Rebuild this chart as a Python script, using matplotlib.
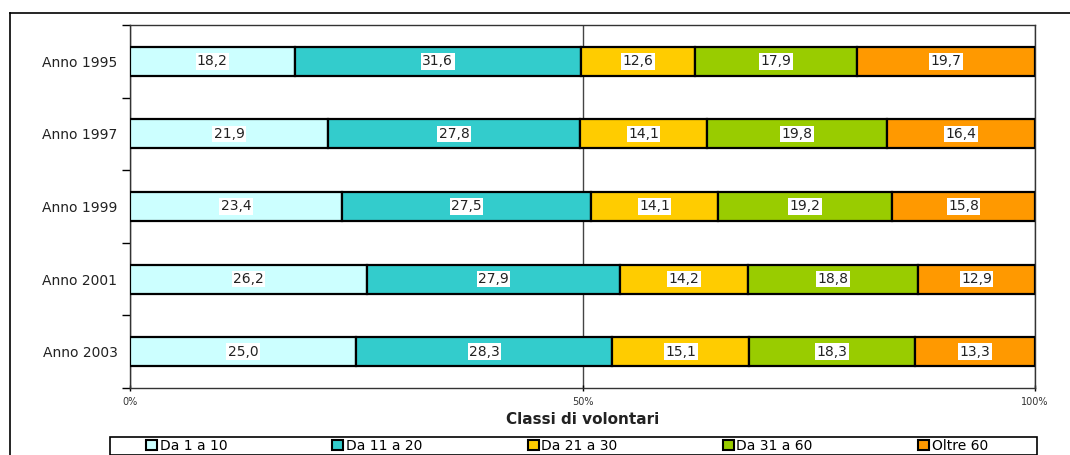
import matplotlib
matplotlib.use('Agg')
import matplotlib.pyplot as plt
from matplotlib.lines import Line2D
from matplotlib.patches import Rectangle, Patch
import numpy as np

plt.rcParams['font.family'] = ['DejaVu Sans']

anni = ['Anno 1995', 'Anno 1997', 'Anno 1999', 'Anno 2001', 'Anno 2003']
classi = ['Da 1 a 10', 'Da 11 a 20', 'Da 21 a 30', 'Da 31 a 60', 'Oltre 60']
da_1_10 = [18.2, 21.9, 23.4, 26.2, 25.0]
da_11_20 = [31.6, 27.8, 27.5, 27.9, 28.3]
da_21_30 = [12.6, 14.1, 14.1, 14.2, 15.1]
da_31_60 = [17.9, 19.8, 19.2, 18.8, 18.3]
oltre_60 = [19.7, 16.4, 15.8, 12.9, 13.3]
colori = ['#CCFFFF', '#33CCCC', '#FFCC00', '#99CC00', '#FF9900']

serie = [da_1_10, da_11_20, da_21_30, da_31_60, oltre_60]

fig = plt.figure(figsize=(10.7, 4.55), dpi=100)
ax = fig.add_axes([130/1070, 1-388/455, (1035-130)/1070, (388-25)/455])

y = np.arange(len(anni))
sinistra = np.zeros(len(anni))
for valori, colore, nome in zip(serie, colori, classi):
    valori = np.array(valori)
    ax.barh(y, valori, left=sinistra, height=0.4, color=colore,
            edgecolor='black', linewidth=1.6, label=nome, zorder=3)
    for yi, l, v in zip(y, sinistra, valori):
        ax.text(l + v/2, yi, f'{v:.1f}'.replace('.', ','), ha='center', va='center',
                fontsize=10, color='#222222', zorder=4,
                bbox=dict(facecolor='white', edgecolor='none', pad=1.0))
    sinistra += valori

ax.set_xlim(0, 100)
ax.set_ylim(4.5, -0.5)
ax.set_yticks(y)
ax.set_yticklabels(anni, fontsize=10, color='#222222')
ax.tick_params(axis='y', length=0, pad=9)
ax.set_yticks(np.arange(-0.5, 5, 1), minor=True)
ax.tick_params(axis='y', which='minor', length=6, width=1, direction='out')
ax.set_xticks([0, 50, 100])
ax.set_xticklabels(['0%', '50%', '100%'], fontsize=7, color='#333333')
ax.tick_params(axis='x', length=5, width=1, direction='inout', pad=4)
ax.xaxis.grid(True, color='#444444', linewidth=1, zorder=0)
for s in ax.spines.values():
    s.set_linewidth(1)
    s.set_color('#333333')

fig.text(583/1070, 1-420/455, 'Classi di volontari', ha='center', va='center',
         fontsize=11, fontweight='bold', color='#222222')

# riquadro legenda
fig.patches.append(Rectangle((110/1070, 0.0), (1037-110)/1070, 18/455,
                             transform=fig.transFigure, facecolor='white',
                             edgecolor='black', linewidth=1.2))
handles = [Patch(facecolor=c, edgecolor='black', linewidth=1.5) for c in colori]
fig.legend(handles, classi, loc='center left', bbox_to_anchor=(146/1070, 9/455),
           ncol=5, frameon=False, fontsize=10, handlelength=0.8, handleheight=0.8,
           handletextpad=0.2, columnspacing=7.55, borderpad=0, borderaxespad=0)

# cornice esterna
fig.add_artist(Line2D([10/1070, 10/1070], [0, 1-13/455], transform=fig.transFigure,
                      color='black', linewidth=1.2))
fig.add_artist(Line2D([10/1070, 1], [1-13/455, 1-13/455], transform=fig.transFigure,
                      color='black', linewidth=1.2))

fig.savefig('out.png', dpi=100)
